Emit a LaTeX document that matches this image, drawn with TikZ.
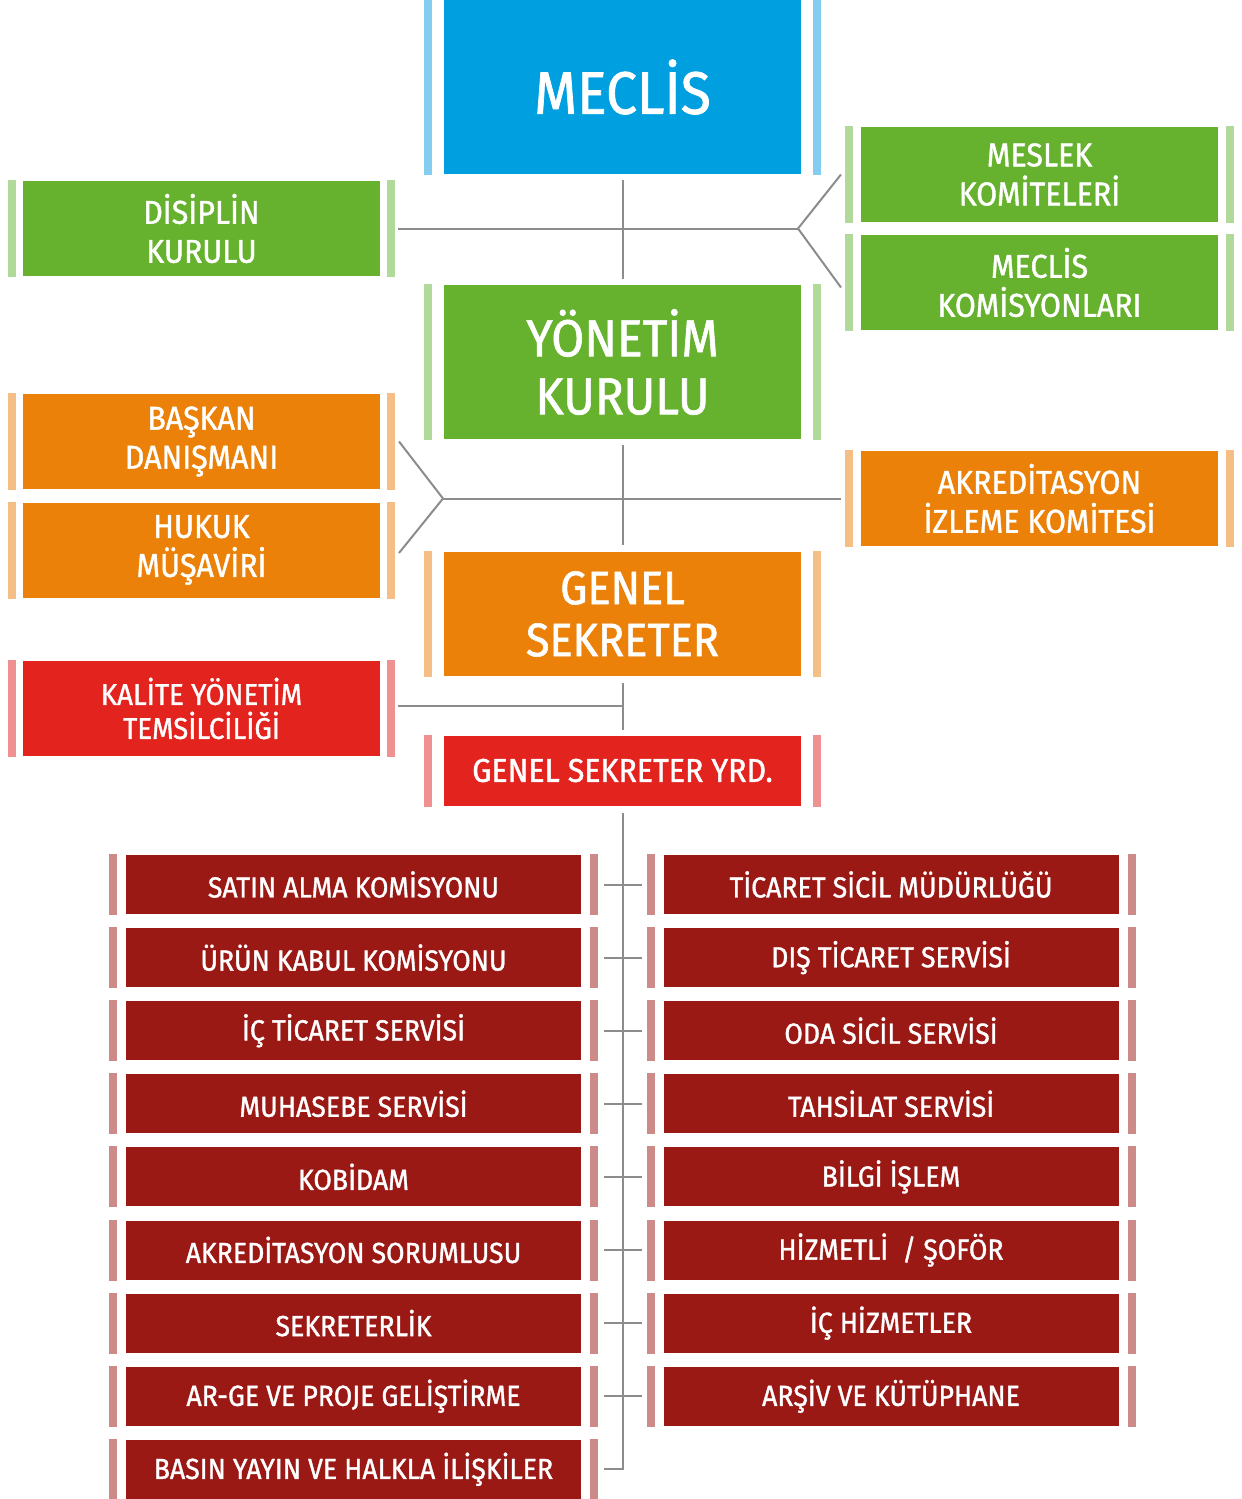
\documentclass[tikz,border=0pt]{standalone}
\usepackage{fontspec}
\setmainfont{Fira Sans}[FakeBold=1.2, FakeStretch=0.92]
\usetikzlibrary{calc}

\definecolor{meclisblue}{RGB}{0,160,224}
\definecolor{bluebar}{RGB}{132,205,240}
\definecolor{kurulgreen}{RGB}{102,178,46}
\definecolor{greenbar}{RGB}{176,217,154}
\definecolor{sekorange}{RGB}{235,129,8}
\definecolor{orangebar}{RGB}{245,190,135}
\definecolor{yrdred}{RGB}{226,35,30}
\definecolor{redbar}{RGB}{240,145,145}
\definecolor{servred}{RGB}{154,25,21}
\definecolor{servbar}{RGB}{204,138,136}
\definecolor{linegray}{RGB}{140,140,140}

\tikzset{every picture/.style={line width=1pt}}

% pale bars either side of a box: [gap]{node}{colour}
\newcommand{\sidebars}[3][8]{%
  \fill[#3] ($(#2.north west)+(-#1-8,0)$) rectangle ($(#2.south west)+(-#1,0)$);
  \fill[#3] ($(#2.north east)+(#1,0)$) rectangle ($(#2.south east)+(#1+8,0)$);}

\begin{document}
\begin{tikzpicture}[x=0.5pt,y=-0.5pt,
  box/.style={fill=#1, text=white, inner sep=0pt, align=center},
  topbox/.style={box=#1, minimum width=178.5pt},
  sidebox/.style={box=#1, minimum width=178.5pt, minimum height=47.5pt, font=\fontsize{16.5}{19.5}\selectfont},
  servbox/.style={box=servred, minimum width=227.5pt, minimum height=29.5pt, font=\fontsize{14.5}{16}\selectfont},
  conn/.style={draw=linegray, line width=1pt}]
\useasboundingbox (0,0) rectangle (1242,1499);

%% centre column
\node[topbox=meclisblue, minimum height=87pt, font=\fontsize{30}{30}\selectfont] (meclis) at (622.5,87) {MECLİS};
\node[topbox=kurulgreen, minimum height=77pt, font=\fontsize{26}{29}\selectfont] (yonetim) at (622.5,362) {YÖNETİM\\KURULU};
\node[topbox=sekorange, minimum height=62pt, font=\fontsize{23.5}{26}\selectfont] (gensek) at (622.5,614) {GENEL\\SEKRETER};
\node[topbox=yrdred, minimum height=35pt, font=\fontsize{16.5}{18}\selectfont] (yrd) at (622.5,770.5) {GENEL SEKRETER YRD.};
\sidebars[11]{meclis}{bluebar}
\sidebars[11]{yonetim}{greenbar}
\sidebars[11]{gensek}{orangebar}
\sidebars[11]{yrd}{redbar}

%% side boxes
\node[sidebox=kurulgreen] (disiplin) at (201.5,228.5) {DİSİPLİN\\KURULU};
\node[sidebox=kurulgreen] (meslek) at (1039.5,174.5) {MESLEK\\KOMİTELERİ};
\node[sidebox=kurulgreen] (komisyon) at (1039.5,282.5) {MECLİS\\KOMİSYONLARI};
\node[sidebox=sekorange] (baskan) at (201.5,441.5) {BAŞKAN\\DANIŞMANI};
\node[sidebox=sekorange] (hukuk) at (201.5,550) {HUKUK\\MÜŞAVİRİ};
\node[sidebox=sekorange] (akredit) at (1039.5,498.5) {AKREDİTASYON\\İZLEME KOMİTESİ};
\node[sidebox=yrdred, font=\fontsize{15}{17}\selectfont] (kalite) at (201.5,708.5) {KALİTE YÖNETİM\\TEMSİLCİLİĞİ};
\sidebars[6]{disiplin}{greenbar}
\sidebars[6]{baskan}{orangebar}
\sidebars[6]{hukuk}{orangebar}
\sidebars[6]{kalite}{redbar}
\sidebars[7]{meslek}{greenbar}
\sidebars[7]{komisyon}{greenbar}
\sidebars[7]{akredit}{orangebar}

%% connectors, upper part
\coordinate (fork1) at (798,228.5);
\coordinate (fork2) at (443,498.5);
\draw[conn] ($(meclis.south)+(0,5)$) -- ($(yonetim.north)+(0,-5)$);
\draw[conn] ($(disiplin.east)+(17,0)$) -- (fork1);
\draw[conn] ($(meslek.west)+(-19,0)$) -- (fork1) -- ($(komisyon.west)+(-19,5)$);
\draw[conn] ($(yonetim.south)+(0,5)$) -- ($(gensek.north)+(0,-6)$);
\draw[conn] ($(baskan.east)+(18,0)$) -- (fork2) -- ($(hukuk.east)+(18,3)$);
\draw[conn] (fork2) -- ($(akredit.west)+(-19,0)$);
\draw[conn] ($(gensek.south)+(0,6)$) -- ($(yrd.north)+(0,-5)$);
\draw[conn] ($(kalite.east)+(17,-3)$) -- ($(kalite.east -| gensek.south)+(0,-3)$);

%% services
\foreach \lname/\rname [count=\i] in {SATIN ALMA KOMİSYONU/TİCARET SİCİL MÜDÜRLÜĞÜ,
    ÜRÜN KABUL KOMİSYONU/DIŞ TİCARET SERVİSİ,
    İÇ TİCARET SERVİSİ/ODA SİCİL SERVİSİ,
    MUHASEBE SERVİSİ/TAHSİLAT SERVİSİ,
    KOBİDAM/BİLGİ İŞLEM,
    AKREDİTASYON SORUMLUSU/HİZMETLİ~~\slash~ŞOFÖR,
    SEKRETERLİK/İÇ HİZMETLER,
    AR-GE VE PROJE GELİŞTİRME/ARŞİV VE KÜTÜPHANE} {
  \node[servbox] (bl\i) at (353.5,{884.5+73.1*(\i-1)}) {\lname};
  \node[servbox] (br\i) at (891,{884.5+73.1*(\i-1)}) {\rname};
  \sidebars[8]{bl\i}{servbar}
  \sidebars[8]{br\i}{servbar}
  \draw[conn] ($(bl\i.east)+(22,0)$) -- ($(br\i.west)+(-21,0)$);
}
\node[servbox] (bl9) at (353.5,1469.3) {BASIN YAYIN VE HALKLA İLİŞKİLER};
\sidebars[8]{bl9}{servbar}
\draw[conn] ($(yrd.south)+(0,6)$) |- ($(bl9.east)+(22,0)$);

\end{tikzpicture}
\end{document}
